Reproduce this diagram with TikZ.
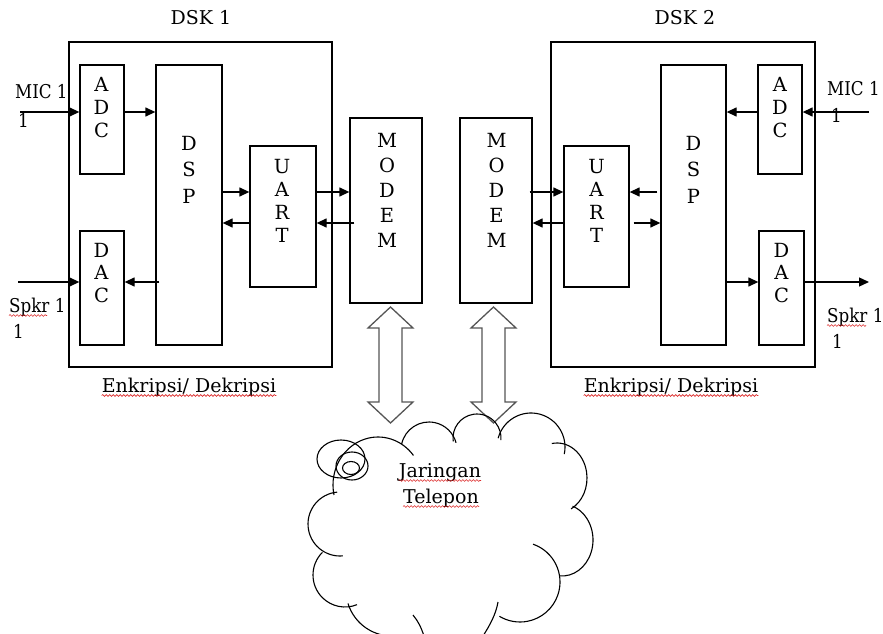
\documentclass[tikz,border=0pt]{standalone}
\usepackage{fontspec}
\setmainfont{DejaVu Serif}
\usetikzlibrary{arrows.meta,decorations.pathmorphing}

\definecolor{blockgray}{RGB}{85,85,85}
\definecolor{spellred}{RGB}{220,40,40}

% vertical stack of letters: name, x, first baseline, line step, letters
\newcommand\letterstack[5]{%
  \foreach \ch [count=\i from 0] in {#5}
    \node[lbl] (#1-\i) at ({#2},{#3+#4*\i}) {\ch};}

% one bump of the cloud outline: centre x, centre y, x radius, y radius, start angle, end angle
\newcommand\cloudbump[6]{%
  \draw[cloudline] ({#1+#3*cos(#5)},{#2-#4*sin(#5)})
    arc[start angle=#5, end angle=#6, x radius=#3pt, y radius=#4pt];}

\begin{document}
\begin{tikzpicture}[x=1pt,y=-1pt,
  frame/.style={draw=black, line width=1.3pt, inner sep=0pt},
  lbl/.style={font=\fontsize{19.5}{19.5}\selectfont, inner sep=0pt, anchor=base},
  txt/.style={font=\fontsize{19}{19}\selectfont, inner sep=0pt},
  portlbl/.style={txt, anchor=base west, xscale=0.88},
  arr/.style={draw=black, line width=1.3pt, -{Triangle[length=10pt,width=9pt]}},
  blockarrow/.style={draw=blockgray, line width=1.3pt, line join=miter},
  cloudline/.style={draw=black, line width=1.1pt},
  squiggle/.style={draw=spellred, line width=0.6pt,
    decorate, decoration={snake, amplitude=0.9pt, segment length=3.5pt}}]

\useasboundingbox (0,0) rectangle (883,634);

% rows used by the horizontal signal lines
\coordinate (r1) at (0,112);
\coordinate (r2) at (0,192);
\coordinate (r3) at (0,223);
\coordinate (r4) at (0,282);

% ---------------- DSK 1 ----------------
\node[frame, minimum width=263pt, minimum height=325pt] (dsk1) at (200.5,204.5) {};
\node[frame, minimum width=44pt, minimum height=109pt] (adc1) at (102,119.5) {};
\node[frame, minimum width=66pt, minimum height=280pt] (dsp1) at (189,205) {};
\node[frame, minimum width=66pt, minimum height=141pt] (uart1) at (283,216.5) {};
\node[frame, minimum width=44pt, minimum height=114pt] (dac1) at (102,288) {};

\letterstack{adc1t}{101.5}{92}{22.5}{A,D,C}
\letterstack{dsp1t}{189}{150}{26.5}{D,S,P}
\letterstack{uart1t}{282}{173}{23}{U,A,R,T}
\letterstack{dac1t}{101.5}{257}{22.5}{D,A,C}

\node[txt, anchor=base] (dsk1lbl) at (201,25) {DSK 1};
\node[txt, anchor=base] (enk1) at (189,392) {Enkripsi/ Dekripsi};
\node[portlbl] (mic1) at (15,99) {MIC 1};
\node[portlbl] (mic1b) at (18,127) {1};
\node[portlbl] (spk1) at (9,312) {Spkr 1};
\node[portlbl] (spk1b) at (13,338) {1};

% ---------------- modems ----------------
\node[frame, minimum width=72pt, minimum height=185pt] (modem1) at (386,210.5) {};
\node[frame, minimum width=72pt, minimum height=185pt] (modem2) at (496,210.5) {};
\letterstack{modem1t}{387}{147}{25.2}{M,O,D,E,M}
\letterstack{modem2t}{496.5}{147}{25.2}{M,O,D,E,M}

% ---------------- DSK 2 ----------------
\node[frame, minimum width=264pt, minimum height=325pt] (dsk2) at (683,204.5) {};
\node[frame, minimum width=65pt, minimum height=280pt] (dsp2) at (693.5,205) {};
\node[frame, minimum width=65pt, minimum height=141pt] (uart2) at (596.5,216.5) {};
\node[frame, minimum width=44pt, minimum height=109pt] (adc2) at (780,119.5) {};
\node[frame, minimum width=45pt, minimum height=114pt] (dac2) at (781.5,288) {};

\letterstack{adc2t}{780}{92}{22.5}{A,D,C}
\letterstack{dsp2t}{693.5}{150}{26.5}{D,S,P}
\letterstack{uart2t}{596.5}{173}{23}{U,A,R,T}
\letterstack{dac2t}{781.5}{257}{22.5}{D,A,C}

\node[txt, anchor=base] (dsk2lbl) at (685,25) {DSK 2};
\node[txt, anchor=base] (enk2) at (671,392) {Enkripsi/ Dekripsi};
\node[portlbl] (mic2) at (827,95) {MIC 1};
\node[portlbl] (mic2b) at (831,122) {1};
\node[portlbl] (spk2) at (827,322) {Spkr 1};
\node[portlbl] (spk2b) at (832,348) {1};

% ---------------- signal lines, side 1 ----------------
\coordinate (mic1in) at (20,112);
\coordinate (spk1in) at (18,282);
\draw[arr] (mic1in) -- (adc1.west |- r1);
\draw[arr] (adc1.east |- r1) -- (dsp1.west |- r1);
\draw[arr] (dsp1.east |- r2) -- (uart1.west |- r2);
\draw[arr] (uart1.west |- r3) -- (dsp1.east |- r3);
\draw[arr] ([xshift=4pt]dsp1.west |- r4) -- (dac1.east |- r4);
\draw[arr] (spk1in) -- (dac1.west |- r4);
\draw[arr] (uart1.east |- r2) -- (modem1.west |- r2);
\draw[arr] ([xshift=5pt]modem1.west |- r3) -- (uart1.east |- r3);

% ---------------- signal lines, side 2 ----------------
\coordinate (mic2in) at (869,112);
\coordinate (spk2out) at (869,282);
\draw[arr] ([xshift=-3pt]modem2.east |- r2) -- (uart2.west |- r2);
\draw[arr] (uart2.west |- r3) -- (modem2.east |- r3);
\draw[arr] ([xshift=-3pt]dsp2.west |- r2) -- (uart2.east |- r2);
\draw[arr] ([xshift=4pt]uart2.east |- r3) -- (dsp2.west |- r3);
\draw[arr] (mic2in) -- (adc2.east |- r1);
\draw[arr] (adc2.west |- r1) -- (dsp2.east |- r1);
\draw[arr] (dsp2.east |- r4) -- (dac2.west |- r4);
\draw[arr] (dac2.east |- r4) -- (spk2out);

% ---------------- block arrows between modems and network ----------------
\coordinate (ba1) at (390.5,307);
\coordinate (ba2) at (493.5,307);
\draw[blockarrow] (ba1) -- ++(22.5,21) -- ++(-11,0) -- ++(0,74) -- ++(11,0)
  -- ++(-22.5,21) -- ++(-22.5,-21) -- ++(11,0) -- ++(0,-74) -- ++(-11,0) -- cycle;
\draw[blockarrow] (ba2) -- ++(22.5,21) -- ++(-11,0) -- ++(0,74) -- ++(11,0)
  -- ++(-22.5,21) -- ++(-22.5,-21) -- ++(11,0) -- ++(0,-74) -- ++(-11,0) -- cycle;

% ---------------- telephone network cloud ----------------
\begin{scope}
\clip (0,0) rectangle (883,634);
\cloudbump{378}{485}{45}{48}{192}{38}
\cloudbump{429}{450}{28}{28}{168}{15}
\cloudbump{477}{438}{24}{24}{188}{-5}
\cloudbump{531}{447}{34}{34}{165}{-12}
\cloudbump{557}{478}{30}{35}{100}{-62}
\cloudbump{562}{540}{31}{36}{70}{-95}
\cloudbump{520}{582}{40}{40}{71}{-121}
\cloudbump{392}{590}{46}{46}{197}{275}
\cloudbump{345}{575}{32}{32}{135}{292}
\cloudbump{340}{524}{32}{32}{95}{275}
\draw[cloudline] (498,602) .. controls (496,614) and (490,625) .. (483,636);
\draw[cloudline] (413,615) .. controls (418,621) and (421,627) .. (424,636);
\draw[cloudline] (341,459) ellipse[x radius=24pt, y radius=19pt];
\draw[cloudline] (352,466) ellipse[x radius=16pt, y radius=14pt];
\draw[cloudline] (351,468) ellipse[x radius=8.5pt, y radius=6.5pt];
\end{scope}
\node[txt, anchor=base] (net1) at (440,477) {Jaringan};
\node[txt, anchor=base] (net2) at (441,503) {Telepon};

% ---------------- spelling marks under words ----------------
\draw[squiggle] ([yshift=-3.5pt]enk1.base west) -- ([yshift=-3.5pt]enk1.base east);
\draw[squiggle] ([yshift=-3.5pt]enk2.base west) -- ([yshift=-3.5pt]enk2.base east);
\draw[squiggle] ([yshift=-3.5pt]net1.base west) -- ([yshift=-3.5pt]net1.base east);
\draw[squiggle] ([yshift=-3.5pt]net2.base west) -- ([yshift=-3.5pt]net2.base east);
\draw[squiggle] ([yshift=-3.5pt]spk1.base west) -- ++(38,0);
\draw[squiggle] ([yshift=-3.5pt]spk2.base west) -- ++(39,0);

\end{tikzpicture}
\end{document}
